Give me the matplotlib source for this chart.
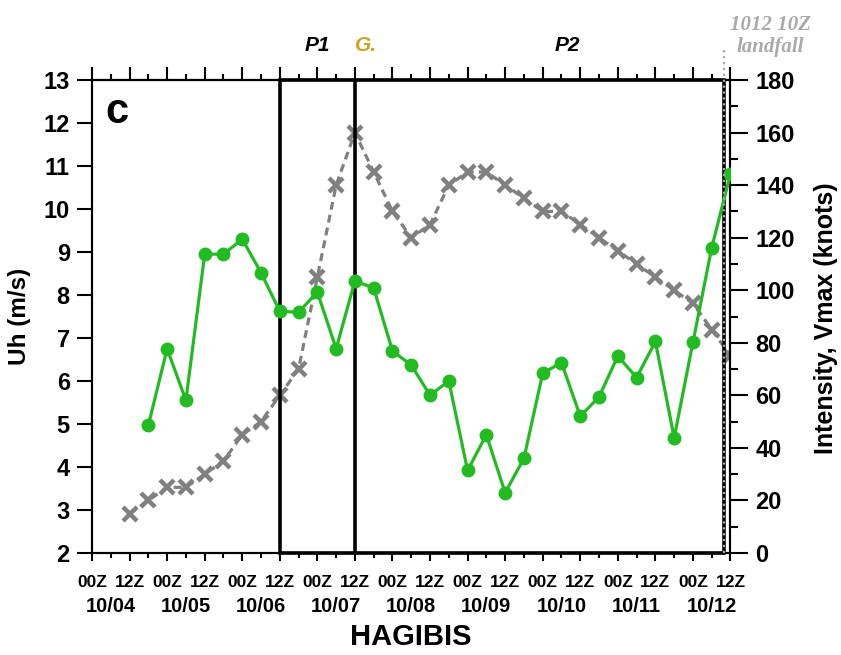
import matplotlib
matplotlib.use("Agg")
import matplotlib.pyplot as plt
from matplotlib.patches import Rectangle
from matplotlib.ticker import MultipleLocator

plt.rcParams['font.family'] = ['Liberation Sans', 'DejaVu Sans']
plt.rcParams['font.weight'] = 'bold'

# hours since 10/04 00Z, 6-hourly
uh_hours = list(range(18, 205, 6))
uh = [4.97, 6.75, 5.55, 8.95, 8.95, 9.3, 8.52, 7.62, 7.6, 8.07, 6.75, 8.33,
      8.16, 6.7, 6.37, 5.67, 6.0, 3.92, 4.75, 3.4, 4.2, 6.18, 6.43, 5.18,
      5.63, 6.58, 6.08, 6.92, 4.68, 6.9, 9.1, 10.82]

vmax_hours = list(range(12, 205, 6))
vmax = [15, 20, 25, 25, 30, 35, 45, 50, 60, 70, 105, 140, 160, 145, 130, 120,
        125, 140, 145, 145, 140, 135, 130, 130, 125, 120, 115, 110, 105, 100,
        95, 85, 75]

hour_ticks = list(range(0, 205, 12))
hour_labels = ['00Z', '12Z'] * 9
days = ['10/04', '10/05', '10/06', '10/07', '10/08', '10/09', '10/10', '10/11', '10/12']

p1_start = 60     # 1006 12Z
genesis = 84      # 1007 12Z
landfall = 202    # 1012 10Z

green = '#22bb22'
grey = '#808080'

fig = plt.figure(figsize=(8.41, 6.55), dpi=100)
ax = fig.add_axes([0.1094, 0.1557, 0.7592, 0.7221])
ax2 = ax.twinx()
ax.set_zorder(ax2.get_zorder() + 1)
ax.patch.set_visible(False)

ax2.plot(vmax_hours, vmax, color=grey, lw=2.3, ls='--', dashes=(2.5, 1.6),
         marker='x', ms=9.5, mew=3.2)
ax.plot(uh_hours, uh, color=green, lw=2.3, marker='o', ms=9, zorder=5)

ax.set_xlim(0, 204)
ax.set_ylim(2, 13)
ax2.set_ylim(0, 180)

# period box
ax.add_patch(Rectangle((p1_start, 2), landfall - p1_start, 11, fill=False,
                       lw=2.6, ec='black', zorder=4, clip_on=False))
ax.plot([genesis, genesis], [2, 13], color='black', lw=2.6, zorder=4)
ax.plot([landfall, landfall], [0, 1.065], transform=ax.get_xaxis_transform(),
        color='#aaaaaa', ls=':', lw=1.6, zorder=6, clip_on=False)

for sp in list(ax.spines.values()) + list(ax2.spines.values()):
    sp.set_linewidth(1.5)

ax.set_xticks(hour_ticks)
ax.set_xticklabels(hour_labels, fontfamily=['Liberation Sans Narrow', 'Liberation Sans'],
                   fontsize=12.5, fontweight='bold')
ax.xaxis.set_minor_locator(MultipleLocator(6))
ax.tick_params(axis='x', which='major', direction='out', length=6, width=1.5, pad=10)
ax.tick_params(axis='x', which='minor', direction='out', length=3.5, width=1.5)

top = ax.secondary_xaxis('top')
top.set_xticks(hour_ticks)
top.xaxis.set_minor_locator(MultipleLocator(6))
top.tick_params(axis='x', which='major', direction='out', length=9.5, width=1.5, labeltop=False)
top.tick_params(axis='x', which='minor', direction='out', length=4.5, width=1.5)
top.spines['top'].set_linewidth(1.5)

ax.yaxis.set_major_locator(MultipleLocator(1))
ax.tick_params(axis='y', which='major', direction='out', length=11, width=1.5,
               labelsize=17, pad=5)
ax2.yaxis.set_major_locator(MultipleLocator(20))
ax2.yaxis.set_minor_locator(MultipleLocator(10))
ax2.tick_params(axis='y', which='major', direction='out', length=13, width=1.5,
                labelsize=17, pad=5)
ax2.tick_params(axis='y', which='minor', direction='out', length=6, width=1.5)

xt = ax.get_xaxis_transform()
for i, d in enumerate(days):
    ax.text(6 + 24 * i, -0.114, d, transform=xt, ha='center', va='center',
            fontsize=14.5, fontweight='bold')
ax.text(102, -0.178, 'HAGIBIS', transform=xt, ha='center', va='center',
        fontsize=21, fontweight='bold')

fig.text(20 / 841, 1 - 316 / 655, 'Uh (m/s)', rotation=90,
         ha='center', va='center', fontsize=17.5, fontweight='bold')
fig.text(826 / 841, 1 - 318 / 655, 'Intensity, Vmax (knots)', rotation=90,
         ha='center', va='center', fontsize=18, fontweight='bold')

ax.text(0.039, 0.932, 'c', transform=ax.transAxes, ha='center', va='center',
        fontsize=30, fontweight='bold')

ax.text(72, 1.072, 'P1', transform=xt, ha='center', va='center', fontsize=15,
        fontweight='bold', style='italic')
ax.text(87.5, 1.072, 'G.', transform=xt, ha='center', va='center', fontsize=15,
        fontweight='bold', style='italic', color='#c9a227')
ax.text(152, 1.072, 'P2', transform=xt, ha='center', va='center', fontsize=15,
        fontweight='bold', style='italic')

fig.text(0.9156, 0.962, '1012 10Z', ha='center', va='center', fontsize=15,
         fontfamily='Liberation Serif', fontweight='bold', style='italic', color='#aaaaaa')
fig.text(0.9156, 0.928, 'landfall', ha='center', va='center', fontsize=15,
         fontfamily='Liberation Serif', fontweight='bold', style='italic', color='#aaaaaa')

fig.savefig('out.png', dpi=100)
